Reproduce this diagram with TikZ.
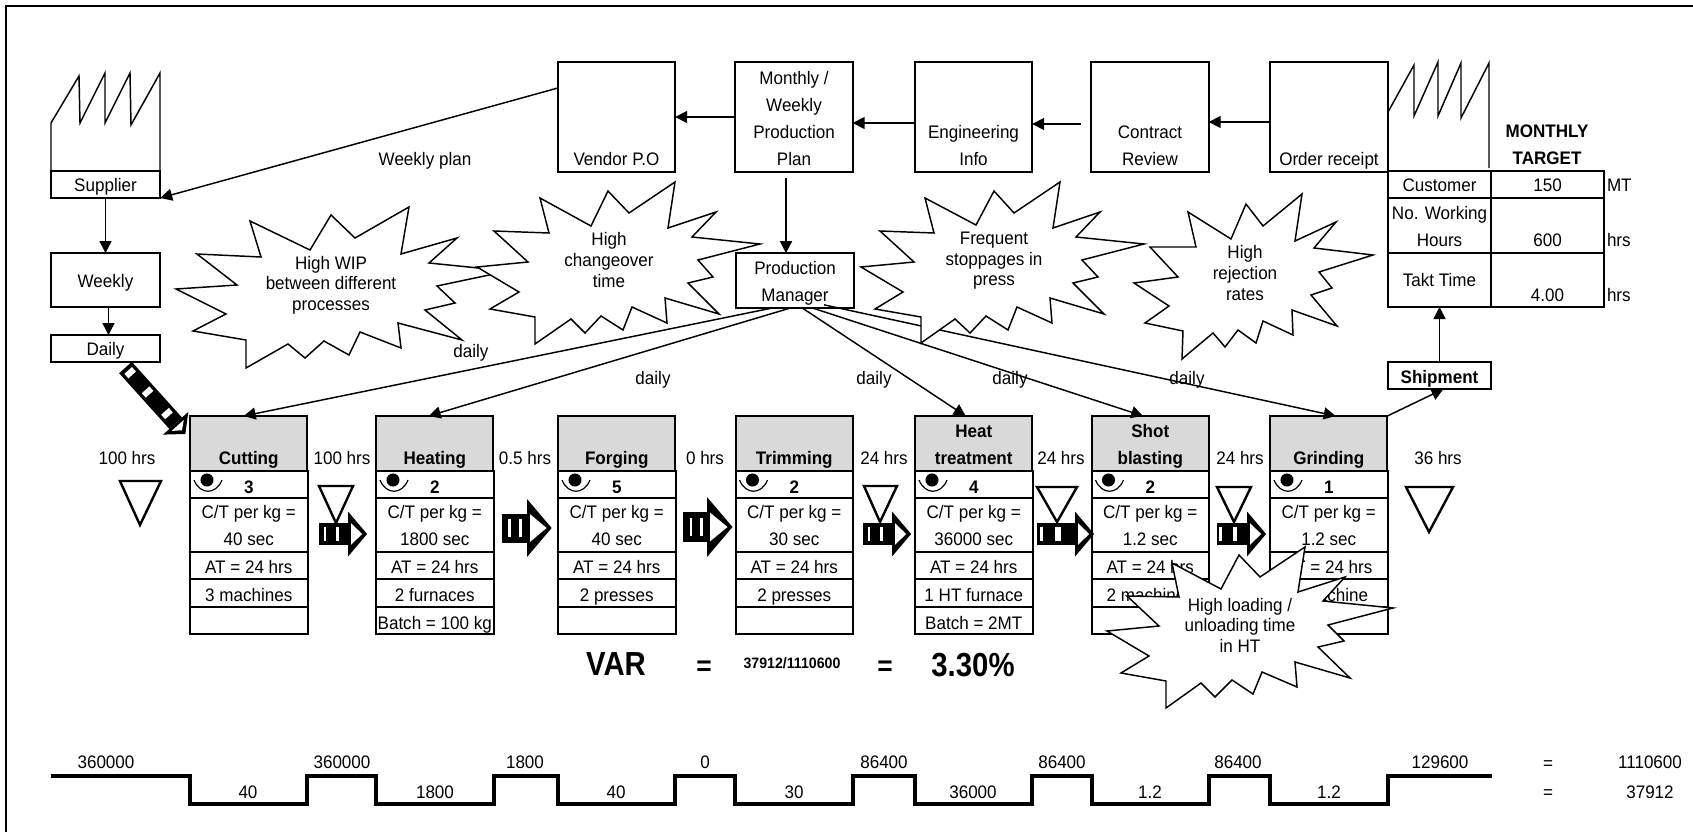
\documentclass[tikz,border=0pt]{standalone}
\usepackage{fontspec}
\setmainfont[FakeStretch=0.94]{Liberation Sans}
\newfontface\bigbold[FakeStretch=0.88]{Liberation Sans Bold}
\usepackage{xcolor}
\usepackage{tikz}
\usetikzlibrary{arrows.meta,calc}
\definecolor{headgray}{HTML}{D9D9D9}
\newcommand{\fnt}{\fontsize{13.6}{20.25}\selectfont}
\newcommand{\fntb}{\fontsize{13.6}{15.4}\selectfont}
\tikzset{
  box/.style={draw,line width=1.5pt,inner sep=0pt,outer sep=0pt,align=center,font=\fnt},
  proch/.style={box,fill=headgray,anchor=north west,minimum width=88pt,minimum height=41.25pt},
  topbox/.style={box,minimum width=88pt,minimum height=82pt},
  cell/.style={font=\fnt,inner sep=0pt,outer sep=0pt,align=center,anchor=south,yshift=-1.2pt,execute at end node=\strut},
  lbl/.style={font=\fnt,inner sep=0pt,text height=9.8pt,text depth=0pt,yshift=-0.6pt},
  rowline/.style={line width=1.5pt},
  arr/.style={-{Triangle[length=9pt,width=9pt]},line width=1.1pt},
  burst/.style={draw,fill=white,line width=1.1pt},
  bursttxt/.style={font=\fntb,inner sep=0pt,align=center},
  tri/.style={draw,line width=1.8pt},
  factory/.style={draw,line width=1.1pt},
  ladder/.style={draw,line width=2.5pt},
}
% one process column: name, left x, operators, title, cycle time, two lower rows
\newcommand{\procbox}[7]{%
  \node[proch] (#1) at (#2,416) {};
  \draw[rowline] (#2,471) rectangle (#2+117.5,498);
  \draw[rowline] (#2,498) rectangle (#2+117.5,552);
  \draw[rowline] (#2,552) rectangle (#2+117.5,579);
  \draw[rowline] (#2,579) rectangle (#2+117.5,607);
  \draw[rowline] (#2,607) rectangle (#2+117.5,634);
  \node[cell,font=\fnt\bfseries] (#1t) at (#2+58.75,471) {#4};
  \node[cell,font=\fnt\bfseries] (#1n) at (#2+58.75,500) {#3};
  \node[cell] (#1c) at (#2+58.75,552) {C/T per kg =\\#5};
  \node[cell] (#1a) at (#2+58.75,580) {AT = 24 hrs};
  \node[cell] (#1m) at (#2+58.75,608) {#6};
  \node[cell] (#1b) at (#2+58.75,636) {#7};
  \fill (#2+17,480) circle (4.9pt);
  \draw[line width=0.9pt] (#2+4,480) .. controls (#2+10,495) and (#2+26,495) .. (#2+32,480);
}
% push arrow: tail centre, angle, body length, head half height, white stripes
\newcommand{\pushmark}[5]{%
  \begin{scope}[shift={(#1)},rotate=#2]
    \fill (0,-#4/2) rectangle (#3,#4/2);
    \foreach \s/\w in {#5} \fill[white] (\s,-#4*0.3) rectangle (\s+\w,#4*0.3);
    \fill (#3,-#4) -- (#3+0.85*#4,0) -- (#3,#4) -- cycle;
    \fill[white] (#3+3,-#4*0.48) -- (#3+0.85*#4-5,0) -- (#3+3,#4*0.48) -- cycle;
  \end{scope}}
\begin{document}
\begin{tikzpicture}[x=0.75pt,y=-0.75pt]
\useasboundingbox (0,0) rectangle (1693,832);
\draw[line width=1.5pt] (6,832) -- (6,6) -- (1693,6);

% top row
\node[topbox] (vendor) at (616.5,117) {};
\node[cell] (vendort) at (vendor.south) {Vendor P.O};
\node[topbox] (plan) at (794,117) {};
\node[cell] (plant) at (plan.south) {Monthly /\\Weekly\\Production\\Plan};
\node[topbox] (eng) at (973.5,117) {};
\node[cell] (engt) at (eng.south) {Engineering\\Info};
\node[topbox] (contract) at (1150,117) {};
\node[cell] (contractt) at (contract.south) {Contract\\Review};
\node[topbox] (order) at (1329,117) {};
\node[cell] (ordert) at (order.south) {Order receipt};

% supplier side
\draw[factory] (51,171) -- (51,123) -- (79,76) -- (80,123) -- (105,73) -- (105,123) -- (130,73) -- (131,125) -- (160,73) -- (160,171);
\node[box,minimum width=82pt,minimum height=20.25pt] (supplier) at (105.5,184.5) {};
\node[cell] (suppliert) at (supplier.south) {Supplier};
\node[box,minimum width=82pt,minimum height=40.5pt] (weekly) at (105.5,280) {};
\node[cell] (weeklyt) at (105.5,294) {Weekly};
\node[box,minimum width=82pt,minimum height=20.25pt] (daily) at (105.5,348.5) {};
\node[cell] (dailyt) at (daily.south) {Daily};

% customer side
\draw[factory] (1388,171) -- (1388,112) -- (1414,65) -- (1414,116) -- (1438,62) -- (1438,116) -- (1461,63) -- (1461,118) -- (1489,63) -- (1489,168);
\draw[rowline] (1388,171) rectangle (1491,198);
\draw[rowline] (1491,171) rectangle (1604,198);
\draw[rowline] (1388,198) rectangle (1491,253);
\draw[rowline] (1491,198) rectangle (1604,253);
\draw[rowline] (1491,253) rectangle (1604,307);
\node[box,minimum width=77.25pt,minimum height=40.5pt] (takt) at (1439.5,280) {Takt Time};
\node[cell,font=\fnt\bfseries] (target) at (1547,171) {MONTHLY\\TARGET};
\node[cell] (cust) at (1439.5,198) {Customer};
\node[cell] (custv) at (1547.5,198) {150};
\node[cell] (hours) at (1439.5,253) {No. Working\\Hours};
\node[cell] (hoursv) at (1547.5,253) {600};
\node[cell] (taktv) at (1547.5,308) {4.00};
\node[cell,anchor=south west] (custu) at (1607,198) {MT};
\node[cell,anchor=south west] (hoursu) at (1607,253) {hrs};
\node[cell,anchor=south west] (taktu) at (1607,308) {hrs};
\node[box,minimum width=77.25pt,minimum height=20.25pt] (ship) at (1439.5,375.5) {};
\node[cell,font=\fnt\bfseries] (shipt) at ($(ship.south)+(0,1)$) {Shipment};

% production manager
\node[box,minimum width=88pt,minimum height=41pt] (pm) at (795,280.5) {};
\node[cell] (pmt) at (pm.south) {Production\\Manager};

% process columns
\procbox{cut}{190}{3}{Cutting}{40 sec}{3 machines}{}
\procbox{heat}{376}{2}{Heating}{1800 sec}{2 furnaces}{Batch = 100 kg}
\procbox{forge}{558}{5}{Forging}{40 sec}{2 presses}{}
\procbox{trim}{735.5}{2}{Trimming}{30 sec}{2 presses}{}
\procbox{ht}{915}{4}{Heat\\treatment}{36000 sec}{1 HT furnace}{Batch = 2MT}
\procbox{shot}{1091.5}{2}{Shot\\blasting}{1.2 sec}{2 machines}{}
\procbox{grind}{1270}{1}{Grinding}{1.2 sec}{1 machine}{}

% connectors
\draw[arr] ($(vendor.west)+(0,-29)$) -- (supplier.south east);
\draw[arr] (supplier.south) -- (weekly.north);
\draw[arr] ($(weekly.south)+(3,0)$) -- ($(daily.north)+(3,0)$);
\draw[arr] (plan.west) -- (vendor.east);
\draw[arr] ($(eng.west)+(0,6)$) -- ($(plan.east)+(0,6)$);
\draw[arr,shorten <=7.5pt] ($(contract.west)+(0,7)$) -- ($(eng.east)+(0,7)$);
\draw[arr] ($(order.west)+(0,5)$) -- ($(contract.east)+(0,5)$);
\draw[arr,shorten <=4.5pt] ($(plan.south)+(-8,0)$) -- ($(pm.north)+(-9,0)$);
\draw[arr] ($(pm.south)+(-22,0)$) -- ($(cut.north)+(-5,0)$);
\draw[arr] ($(pm.south)+(-4,0)$) -- ($(heat.north)+(-6,0)$);
\draw[arr] ($(pm.south)+(7,0)$) -- ($(ht.north)+(-8,0)$);
\draw[arr] ($(pm.south)+(17,0)$) -- ($(shot.north)+(-7,0)$);
\draw[arr] ($(pm.south)+(29,-3)$) -- ($(grind.north)+(7,0)$);
\draw[arr] (grind.north east) -- ($(ship.south)+(4,0)$);
\draw[arr] (ship.north) -- (takt.south);

% push arrows
\pushmark{125.5,367.5}{-48}{75}{17}{4/6,30/6,59/6}
\pushmark{319,534}{0}{29}{22.5}{5/2,17/3}
\pushmark{502,528}{0}{25}{29}{6/3,17/3}
\pushmark{683,527}{0}{24}{30}{7/2,17/3}
\pushmark{863,534}{0}{29}{22.5}{5/2,17/3}
\pushmark{1037,534}{0}{38}{22.5}{3/3,18/6}
\pushmark{1217,534}{0}{30}{22.5}{2/3,16/4}

% inventory triangles
\draw[tri] (120,481) -- (161,481) -- (140,525) -- cycle;
\draw[tri] (319,486) -- (353,486) -- (336,523) -- cycle;
\draw[tri] (864,486) -- (897,486) -- (880,522) -- cycle;
\draw[tri] (1037,487) -- (1077,487) -- (1057,522) -- cycle;
\draw[tri] (1217,487) -- (1251,487) -- (1234,522) -- cycle;
\draw[tri] (1406,487) -- (1453,487) -- (1429,532) -- cycle;

% kaizen bursts
\draw[burst] (250,221) -- (310,250) -- (331,215) -- (355,238) -- (409,207) -- (401,254) -- (457,238) -- (429,263) -- (508,271) -- (437,286) -- (455,303) -- (425,310) -- (462,340) -- (398,323) -- (401,348) -- (360,332) -- (349,355) -- (324,341) -- (305,358) -- (288,344) -- (246,368) -- (246,340) -- (193,331) -- (226,314) -- (176,289) -- (237,285) -- (197,254) -- (261,257) -- cycle;
\draw[burst] (540,198) -- (591,226) -- (608,191) -- (629,213) -- (675,182) -- (668,228) -- (716,212) -- (692,237) -- (760,244) -- (698,260) -- (713,277) -- (688,283) -- (719,314) -- (665,298) -- (667,323) -- (632,307) -- (623,330) -- (601,316) -- (585,333) -- (571,319) -- (535,344) -- (535,317) -- (490,309) -- (519,292) -- (477,267) -- (528,262) -- (494,231) -- (549,233) -- cycle;
\draw[burst] (925,198) -- (976,225) -- (994,191) -- (1014,213) -- (1060,182) -- (1053,228) -- (1100,212) -- (1076,237) -- (1144,244) -- (1082,260) -- (1098,277) -- (1073,283) -- (1104,314) -- (1050,298) -- (1052,323) -- (1017,307) -- (1008,330) -- (986,316) -- (970,333) -- (955,319) -- (921,343) -- (921,317) -- (875,309) -- (903,292) -- (861,267) -- (914,262) -- (880,231) -- (934,233) -- cycle;
\draw[burst] (1188,212) -- (1231,239) -- (1246,204) -- (1263,226) -- (1302,194) -- (1295,241) -- (1336,222) -- (1314,248) -- (1373,255) -- (1319,272) -- (1332,288) -- (1311,295) -- (1337,326) -- (1292,310) -- (1293,335) -- (1263,321) -- (1256,343) -- (1238,330) -- (1225,347) -- (1213,333) -- (1182,359) -- (1183,331) -- (1145,323) -- (1169,306) -- (1134,283) -- (1178,277) -- (1150,247) -- (1196,247) -- cycle;
\draw[burst] (1172,563) -- (1221,589) -- (1239,555) -- (1260,577) -- (1305,547) -- (1298,592) -- (1345,577) -- (1323,601) -- (1393,608) -- (1328,625) -- (1344,641) -- (1318,647) -- (1350,678) -- (1295,662) -- (1297,687) -- (1262,672) -- (1253,694) -- (1232,680) -- (1215,697) -- (1201,683) -- (1166,708) -- (1166,681) -- (1121,673) -- (1149,656) -- (1107,631) -- (1159,626) -- (1127,596) -- (1179,597) -- cycle;
\node[bursttxt] (wip) at (331,285) {High WIP\\between different\\processes};
\node[bursttxt] (change) at (609,260) {High\\changeover\\time};
\node[bursttxt] (stop) at (994,261) {Frequent\\stoppages in\\press};
\node[bursttxt] (reject) at (1245,273) {High\\rejection\\rates};
\node[bursttxt] (load) at (1240,625) {High loading /\\unloading time\\in HT};

% free labels
\node[lbl] (plantxt) at (425,158) {Weekly plan};
\node[lbl] (d1) at (471,350) {daily};
\node[lbl] (d2) at (653,377) {daily};
\node[lbl] (d3) at (874,377) {daily};
\node[lbl] (d4) at (1010,377) {daily};
\node[lbl] (d5) at (1187,377) {daily};
\node[lbl] (w1) at (127,457) {100 hrs};
\node[lbl] (w2) at (342,457) {100 hrs};
\node[lbl] (w3) at (525,457) {0.5 hrs};
\node[lbl] (w4) at (705,457) {0 hrs};
\node[lbl] (w5) at (884,457) {24 hrs};
\node[lbl] (w6) at (1061,457) {24 hrs};
\node[lbl] (w7) at (1240,457) {24 hrs};
\node[lbl] (w8) at (1438,457) {36 hrs};

% ratio line
\node[font=\fontsize{25}{27}\bigbold,inner sep=0pt] (var) at (616,664) {VAR};
\node[font=\fontsize{21}{24}\selectfont\bfseries,inner sep=0pt] (eq1) at (704,668) {=};
\node[font=\fontsize{11.3}{14}\selectfont\bfseries,inner sep=0pt] (ratio) at (792,663) {37912/1110600};
\node[font=\fontsize{21}{24}\selectfont\bfseries,inner sep=0pt] (eq2) at (885,668) {=};
\node[font=\fontsize{25}{27}\bigbold,inner sep=0pt] (pct) at (973,665) {3.30\%};

% lead time ladder
\draw[ladder] (51,776) -| (190,804) -| (307,776) -| (376,804) -| (494,776) -| (558,804) -| (675,776) -| (735,804) -| (853,776) -| (915,804) -| (1032,776) -| (1092,804) -| (1209,776) -| (1270,804) -| (1388,776) -- (1492,776);
\node[lbl] (up1) at (106,761) {360000};
\node[lbl] (up2) at (342,761) {360000};
\node[lbl] (up3) at (525,761) {1800};
\node[lbl] (up4) at (705,761) {0};
\node[lbl] (up5) at (884,761) {86400};
\node[lbl] (up6) at (1062,761) {86400};
\node[lbl] (up7) at (1238,761) {86400};
\node[lbl] (up8) at (1440,761) {129600};
\node[lbl] (dn1) at (248,791) {40};
\node[lbl] (dn2) at (435,791) {1800};
\node[lbl] (dn3) at (616,791) {40};
\node[lbl] (dn4) at (794,791) {30};
\node[lbl] (dn5) at (973,791) {36000};
\node[lbl] (dn6) at (1150,791) {1.2};
\node[lbl] (dn7) at (1329,791) {1.2};
\node[lbl] (eq3) at (1548,762) {=};
\node[lbl] (eq4) at (1548,791) {=};
\node[lbl] (total) at (1650,761) {1110600};
\node[lbl] (va) at (1650,791) {37912};
\end{tikzpicture}
\end{document}
